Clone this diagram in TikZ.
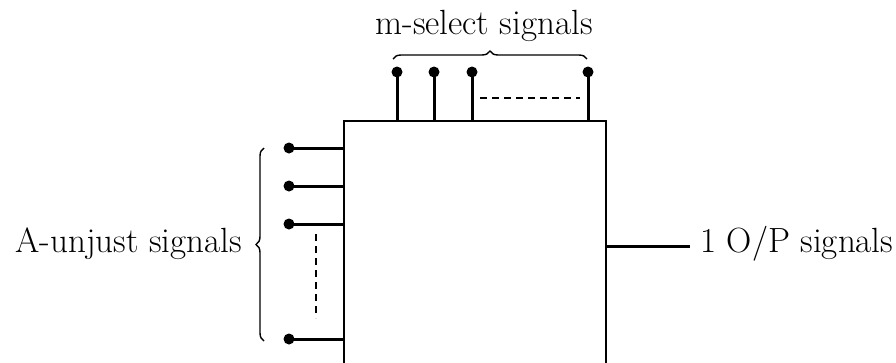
\documentclass[tikz,border=0pt]{standalone}
\usepackage{tikz}
\usetikzlibrary{decorations.pathreplacing,calc,positioning}

\tikzset{
  pin/.style={line width=3pt},
  pindot/.style={circle, fill=black, inner sep=0pt, minimum size=11pt},
  gap/.style={line width=2.6pt, dash pattern=on 7pt off 5pt},
  lbl/.style={font=\fontsize{35}{41}\selectfont, inner sep=0pt},
  grp/.style={decorate, decoration={brace, amplitude=8pt}, line width=1.4pt}
}

\begin{document}
\begin{tikzpicture}[x=1pt, y=-1pt]
\useasboundingbox (0,0) rectangle (896,362);
% the multiplexer block (runs off the bottom)
\node[draw, line width=2.4pt, minimum width=262pt, minimum height=300pt,
      inner sep=0pt, anchor=north west] (mux) at (343,120) {};

% select lines on top
\node[pindot] (s1) at (397,72) {};
\node[pindot] (s2) at (434,72) {};
\node[pindot] (s3) at (472,72) {};
\node[pindot] (sm) at (588,72) {};
\foreach \s in {s1,s2,s3,sm}
  \draw[pin] (\s.center) -- (\s |- mux.north);
\coordinate (ga) at (480,98);
\coordinate (gb) at (580,98);
\draw[gap] (ga) -- (gb);
\coordinate (ba) at (393,59);
\coordinate (bb) at (587,59);
\draw[grp] (ba) -- (bb);
\node[lbl] (sel) at (484,26) {m-select signals};

% data inputs on the left
\node[pindot] (i1) at (289,148) {};
\node[pindot] (i2) at (289,186) {};
\node[pindot] (i3) at (289,224) {};
\node[pindot] (in) at (289,339) {};
\foreach \i in {i1,i2,i3,in}
  \draw[pin] (\i.center) -- (\i -| mux.west);
\coordinate (da) at (316,234);
\coordinate (db) at (316,318);
\draw[gap] (da) -- (db);
\coordinate (la) at (264,341);
\coordinate (lb) at (264,148);
\draw[grp] (la) -- (lb);
\node[lbl, anchor=east] (inp) at (242,244) {A-unjust signals};

% output
\coordinate (o) at (343+262,246);
\coordinate (oe) at (690,246);
\draw[pin] (o) -- (oe);
\node[lbl, anchor=west] (out) at (700,244) {1 O/P signals};
\end{tikzpicture}
\end{document}
